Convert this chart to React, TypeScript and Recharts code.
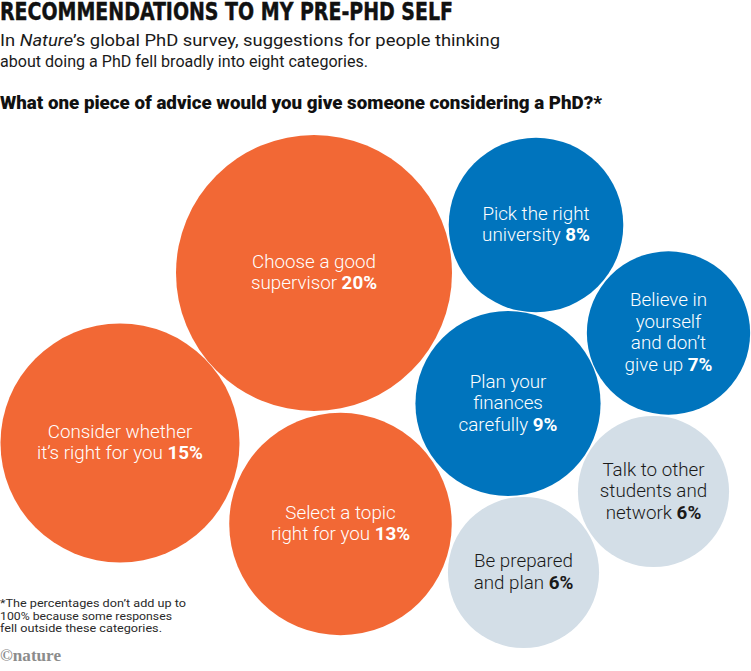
import React from "react";
import { ScatterChart, Scatter, XAxis, YAxis, ZAxis } from "recharts";

// ---- data ----
const categories = [
  "Choose a good supervisor",
  "Consider whether it’s right for you",
  "Select a topic right for you",
  "Pick the right university",
  "Believe in yourself and don’t give up",
  "Plan your finances carefully",
  "Talk to other students and network",
  "Be prepared and plan",
];
const shares = [20, 15, 13, 8, 7, 9, 6, 6];
const labelLines = [
  ["Choose a good", "supervisor"],
  ["Consider whether", "it’s right for you"],
  ["Select a topic", "right for you"],
  ["Pick the right", "university"],
  ["Believe in", "yourself", "and don’t", "give up"],
  ["Plan your", "finances", "carefully"],
  ["Talk to other", "students and", "network"],
  ["Be prepared", "and plan"],
];
// bubble-pack layout positions (layout units)
const packX = [314, 120, 340.5, 536, 668.5, 508, 653.5, 523.5];
const packY = [273, 443, 524, 225, 333, 403.5, 491.5, 572.5];
const groups = ["orange", "orange", "orange", "blue", "blue", "blue", "grey", "grey"];

const footnoteLines = [
  "*The percentages don’t add up to",
  "100% because some responses",
  "fell outside these categories.",
];
const footnoteWidths = [186, 172, 162];

const W = 751;
const H = 671;
const MAX_R = 138;

const fills: Record<string, string> = { orange: "#F26835", blue: "#0074BD", grey: "#D3DEE7" };
const textFills: Record<string, string> = { orange: "#FFFFFF", blue: "#FFFFFF", grey: "#1A1A1A" };

const data = categories.map((c, i) => ({
  name: c,
  share: shares[i],
  x: packX[i],
  y: packY[i],
  lines: labelLines[i],
  group: groups[i],
}));

const FONT = "Roboto, 'Noto Sans', sans-serif";

const Bubble = (props: any) => {
  const { cx, cy, payload } = props;
  const r = props.size != null ? Math.sqrt(Math.max(props.size, 0) / Math.PI) : props.width / 2;
  const lines: string[] = payload.lines;
  const n = lines.length;
  const lh = 21.5;
  return (
    <g>
      <circle cx={cx} cy={cy} r={r} fill={fills[payload.group]} />
      <text
        textAnchor="middle"
        fontFamily={FONT}
        fontSize={18.8}
        fontWeight={300}
        fill={textFills[payload.group]}
      >
        {lines.map((l, i) => (
          <tspan key={i} x={cx} y={cy + 5.5 + (i - (n - 1) / 2) * lh}>
            {i === n - 1 ? l + " " : l}
            {i === n - 1 ? <tspan fontWeight={700}>{payload.share}%</tspan> : null}
          </tspan>
        ))}
      </text>
    </g>
  );
};

export default function App() {
  return (
    <div style={{ position: "absolute", left: 0, top: 0, width: W, height: H, background: "#fff" }}>
      <ScatterChart width={W} height={H} margin={{ top: 0, right: 0, bottom: 0, left: 0 }}>
        <XAxis type="number" dataKey="x" domain={[0, W]} hide allowDataOverflow />
        <YAxis type="number" dataKey="y" domain={[0, H]} reversed hide allowDataOverflow />
        <ZAxis type="number" dataKey="share" domain={[0, 20]} range={[0, Math.PI * MAX_R * MAX_R]} />
        <Scatter data={data} shape={(p: any) => <Bubble {...p} />} isAnimationActive={false} />
      </ScatterChart>
      <svg
        width={W}
        height={H}
        style={{ position: "absolute", left: 0, top: 0, pointerEvents: "none" }}
      >
        <g transform="translate(0,19.5) scale(1,1.12)">
          <text
            x={0}
            y={0}
            fontFamily="'Liberation Sans Narrow', 'DejaVu Sans Condensed', sans-serif"
            fontWeight={700}
            fontSize={22.5}
            fill="#111"
            stroke="#111"
            strokeWidth={0.4}
            textLength={453}
            lengthAdjust="spacingAndGlyphs"
          >
            RECOMMENDATIONS TO MY PRE-PHD SELF
          </text>
        </g>
        <text x={0} y={45.5} fontFamily={FONT} fontSize={17} fill="#1A1A1A" textLength={500} lengthAdjust="spacingAndGlyphs">
          In <tspan fontStyle="italic">Nature</tspan>’s global PhD survey, suggestions for people thinking
        </text>
        <text x={0} y={67} fontFamily={FONT} fontSize={17} fill="#1A1A1A" textLength={368} lengthAdjust="spacingAndGlyphs">
          about doing a PhD fell broadly into eight categories.
        </text>
        <text
          x={0}
          y={109}
          fontFamily={FONT}
          fontWeight={900}
          fontSize={18.5}
          fill="#111"
          textLength={602}
          lengthAdjust="spacingAndGlyphs"
        >
          What one piece of advice would you give someone considering a PhD?*
        </text>
        {footnoteLines.map((l, i) => (
          <text
            key={i}
            x={0}
            y={607 + i * 12.6}
            fontFamily={FONT}
            fontSize={11.6}
            fill="#2A2A2A"
            textLength={footnoteWidths[i]}
            lengthAdjust="spacingAndGlyphs"
          >
            {l}
          </text>
        ))}
        <text
          x={0}
          y={661}
          fontFamily="'Liberation Serif', 'DejaVu Serif', serif"
          fontWeight={700}
          fontSize={17}
          fill="#8C8C8C"
          textLength={61}
          lengthAdjust="spacingAndGlyphs"
        >
          ©nature
        </text>
      </svg>
    </div>
  );
}
